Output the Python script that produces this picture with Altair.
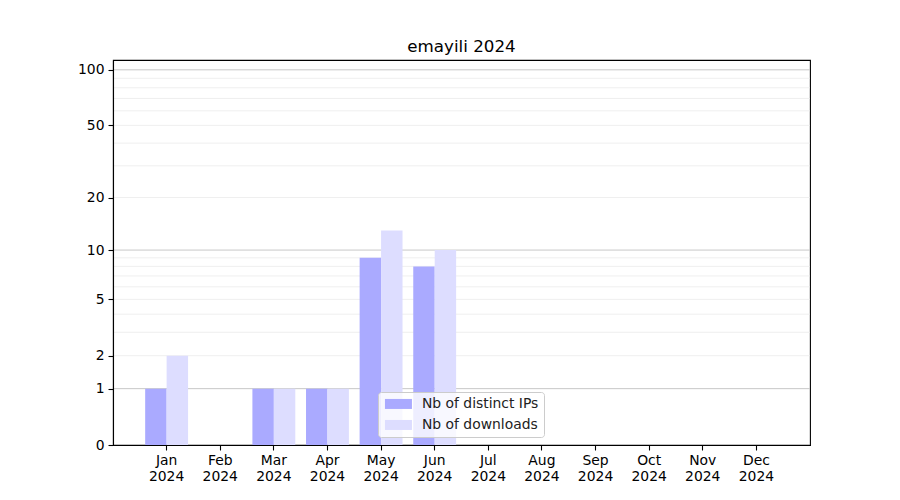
import altair as alt
import pandas as pd

months = ["Jan 2024", "Feb 2024", "Mar 2024", "Apr 2024", "May 2024", "Jun 2024",
          "Jul 2024", "Aug 2024", "Sep 2024", "Oct 2024", "Nov 2024", "Dec 2024"]
ips = [1, 0, 1, 1, 9, 8, 0, 0, 0, 0, 0, 0]
downloads = [2, 0, 1, 1, 13, 10, 0, 0, 0, 0, 0, 0]
series = ["Nb of distinct IPs", "Nb of downloads"]
colors = ["#aaaaff", "#ddddff"]
y_ticks = [0, 1, 2, 5, 10, 20, 50, 100]
grid_major = [1, 10, 100]
grid_minor = [2, 3, 4, 5, 6, 7, 8, 9, 20, 30, 40, 50, 60, 70, 80, 90]

rows = []
for m, a, b in zip(months, ips, downloads):
    rows.append({"month": m, "series": series[0], "value": a})
    rows.append({"month": m, "series": series[1], "value": b})
df = pd.DataFrame(rows)

FONT = "DejaVu Sans"
yscale = alt.Scale(type="symlog", constant=1, domain=[0, 113], nice=False, zero=True)

minor = alt.Chart(pd.DataFrame({"v": grid_minor})).mark_rule(
    color="#ebebeb", strokeWidth=0.8
).encode(y=alt.Y("v:Q", scale=yscale))
major = alt.Chart(pd.DataFrame({"v": grid_major})).mark_rule(
    color="#c8c8c8", strokeWidth=1
).encode(y=alt.Y("v:Q", scale=yscale))

bars = alt.Chart(df).mark_bar().encode(
    x=alt.X("month:N", sort=months,
            scale=alt.Scale(paddingInner=0.2, paddingOuter=0.6),
            axis=alt.Axis(title=None, labelAngle=0, labelExpr="split(datum.label, ' ')",
                          labelFont=FONT, labelFontSize=13.9, labelColor="black",
                          tickColor="black", tickSize=5, tickWidth=1.1,
                          domainColor="black", domainWidth=1.1, labelPadding=3,
                          labelLineHeight=16, zindex=1)),
    xOffset=alt.XOffset("series:N", sort=series, scale=alt.Scale(paddingInner=0, paddingOuter=0)),
    y=alt.Y("value:Q", scale=yscale,
            axis=alt.Axis(title=None, values=y_ticks, grid=False, labelFont=FONT,
                          labelFontSize=13.9, labelColor="black", tickColor="black",
                          tickSize=5, tickWidth=1.1, domainColor="black", domainWidth=1.1,
                          labelPadding=4, zindex=1)),
    color=alt.Color("series:N", sort=series,
                    scale=alt.Scale(domain=series, range=colors),
                    legend=alt.Legend(title=None, orient="none", legendX=265, legendY=332,
                                      fillColor="rgba(255,255,255,0.8)", strokeColor="#cccccc",
                                      cornerRadius=3, padding=5, rowPadding=6,
                                      symbolType="M-1,-1H4.4V1H-1Z", symbolSize=100,
                                      symbolStrokeWidth=0, symbolOpacity=1,
                                      labelFont=FONT, labelFontSize=13.9, labelColor="#222222",
                                      labelOffset=25, zindex=2)),
)

chart = alt.layer(minor, major, bars).properties(
    width=697, height=385,
    background="white",
    title=alt.TitleParams("emayili 2024", font=FONT, fontSize=16.7, fontWeight="normal",
                          color="black", anchor="middle", offset=4),
    autosize=alt.AutoSizeParams(type="none"),
    padding={"left": 105, "top": 52, "right": 82, "bottom": 47},
).configure_view(stroke="#000000", strokeWidth=1.1, strokeOpacity=1)

chart.save("out.html", embed_options={"renderer": "svg", "actions": False})
